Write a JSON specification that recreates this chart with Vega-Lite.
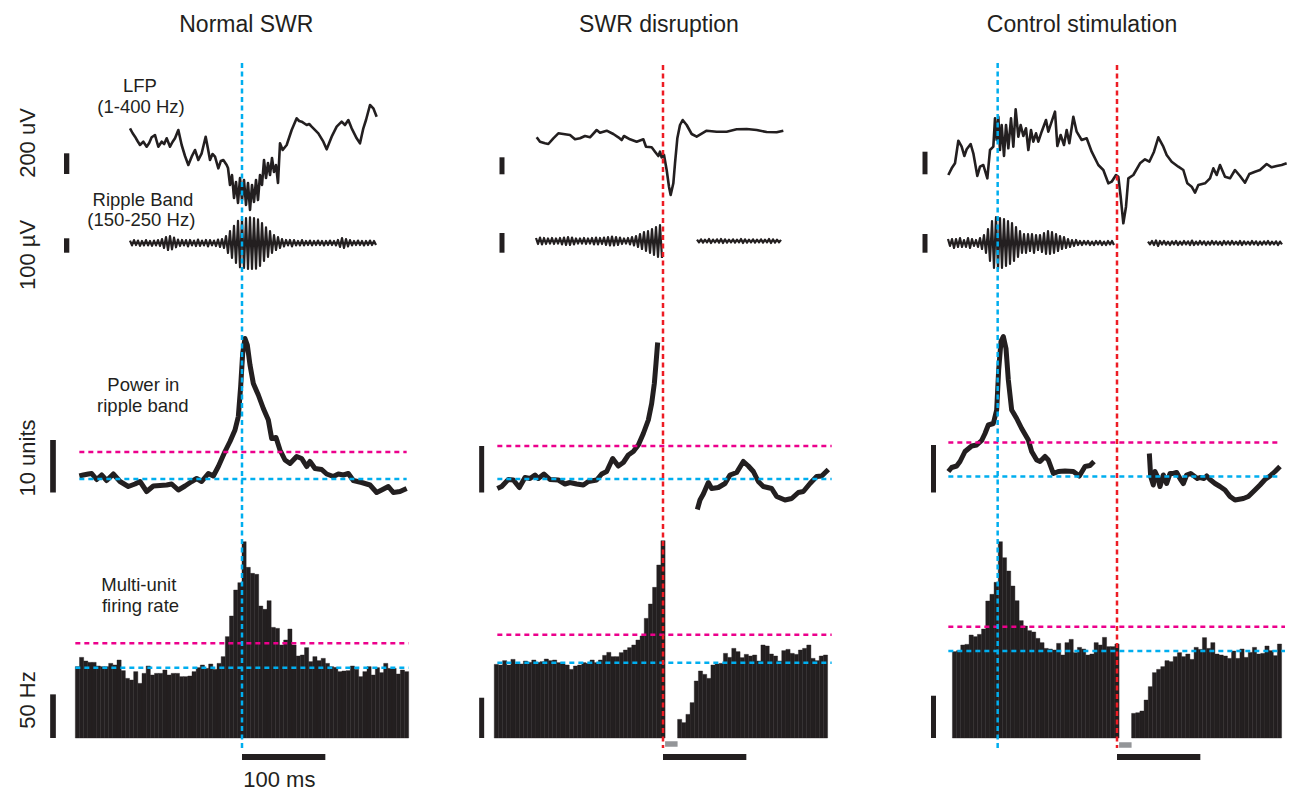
{
"$schema": "https://vega.github.io/schema/vega-lite/v6.json",
"padding": 0,
"background": "white",
"bounds": "flush",
"spacing": 20,
"config": {"view": {"stroke": null}},
"datasets": {
"lfp1": [{"t":-134.4,"v":217},{"t":-131.4,"v":170},{"t":-128.4,"v":133},{"t":-125.4,"v":90},{"t":-122.4,"v":50},{"t":-118.4,"v":83},{"t":-114.4,"v":33},{"t":-111.4,"v":70},{"t":-108.4,"v":127},{"t":-104.4,"v":150},{"t":-102.4,"v":90},{"t":-100.4,"v":33},{"t":-96.4,"v":83},{"t":-93.4,"v":60},{"t":-90.4,"v":117},{"t":-86.4,"v":33},{"t":-83.4,"v":80},{"t":-80.4,"v":117},{"t":-76.4,"v":200},{"t":-72.4,"v":50},{"t":-68.4,"v":-60},{"t":-64.4,"v":-150},{"t":-60.4,"v":-67},{"t":-56.4,"v":0},{"t":-52.4,"v":-100},{"t":-48.4,"v":-33},{"t":-43.6,"v":133},{"t":-41,"v":20},{"t":-38.4,"v":-100},{"t":-35.4,"v":-40},{"t":-32.4,"v":-67},{"t":-28.4,"v":-183},{"t":-25.4,"v":-110},{"t":-22.4,"v":-100},{"t":-18.4,"v":-150},{"t":-16.8,"v":-180},{"t":-14.4,"v":-350},{"t":-12,"v":-250},{"t":-9.6,"v":-480},{"t":-7.2,"v":-320},{"t":-4.8,"v":-530},{"t":-2.4,"v":-280},{"t":0,"v":-500},{"t":2.4,"v":-300},{"t":4.8,"v":-550},{"t":7.2,"v":-330},{"t":9.6,"v":-600},{"t":12,"v":-350},{"t":14.4,"v":-520},{"t":16.8,"v":-300},{"t":19.2,"v":-500},{"t":21.6,"v":-250},{"t":24,"v":-350},{"t":26.4,"v":-100},{"t":28.8,"v":-280},{"t":31.2,"v":-130},{"t":33.6,"v":-250},{"t":36,"v":-80},{"t":38.4,"v":-220},{"t":40.8,"v":-150},{"t":43.2,"v":-330},{"t":45.6,"v":67},{"t":48.8,"v":0},{"t":53.6,"v":50},{"t":59.6,"v":200},{"t":65.6,"v":317},{"t":68.6,"v":290},{"t":71.6,"v":283},{"t":77.6,"v":250},{"t":80.6,"v":260},{"t":83.6,"v":233},{"t":91.6,"v":167},{"t":97.6,"v":83},{"t":101.6,"v":7},{"t":107.6,"v":133},{"t":113.6,"v":233},{"t":119.6,"v":283},{"t":123.6,"v":250},{"t":127.6,"v":300},{"t":131.6,"v":217},{"t":137.6,"v":117},{"t":141.6,"v":67},{"t":145.6,"v":217},{"t":148.8,"v":300},{"t":153.6,"v":450},{"t":157.6,"v":417},{"t":161.6,"v":333}],
"rip1": [{"t":-134.4,"v":17},{"t":-132,"v":-17},{"t":-129.6,"v":20},{"t":-127.2,"v":-14},{"t":-124.8,"v":17},{"t":-122.4,"v":-20},{"t":-120,"v":14},{"t":-117.6,"v":-17},{"t":-115.2,"v":20},{"t":-112.8,"v":-17},{"t":-110.4,"v":14},{"t":-108,"v":-20},{"t":-105.6,"v":17},{"t":-103.2,"v":-17},{"t":-100.8,"v":20},{"t":-98.4,"v":-21},{"t":-96,"v":28},{"t":-93.6,"v":-35},{"t":-91.2,"v":42},{"t":-88.8,"v":-49},{"t":-86.4,"v":49},{"t":-84,"v":-45},{"t":-81.6,"v":38},{"t":-79.2,"v":-30},{"t":-76.8,"v":24},{"t":-74.4,"v":-21},{"t":-72,"v":21},{"t":-69.6,"v":-17},{"t":-67.2,"v":20},{"t":-64.8,"v":-24},{"t":-62.4,"v":21},{"t":-60,"v":-17},{"t":-57.6,"v":17},{"t":-55.2,"v":-21},{"t":-52.8,"v":24},{"t":-50.4,"v":-20},{"t":-48,"v":17},{"t":-45.6,"v":-17},{"t":-43.2,"v":21},{"t":-40.8,"v":-24},{"t":-38.4,"v":20},{"t":-36,"v":-17},{"t":-33.6,"v":17},{"t":-31.2,"v":-21},{"t":-28.8,"v":24},{"t":-26.4,"v":-28},{"t":-24,"v":28},{"t":-21.6,"v":-35},{"t":-19.2,"v":49},{"t":-16.8,"v":-70},{"t":-14.4,"v":84},{"t":-12,"v":-105},{"t":-9.6,"v":120},{"t":-7.2,"v":-140},{"t":-4.8,"v":155},{"t":-2.4,"v":-170},{"t":0,"v":168},{"t":2.4,"v":-175},{"t":4.8,"v":175},{"t":7.2,"v":-182},{"t":9.6,"v":180},{"t":12,"v":-182},{"t":14.4,"v":175},{"t":16.8,"v":-180},{"t":19.2,"v":165},{"t":21.6,"v":-160},{"t":24,"v":140},{"t":26.4,"v":-126},{"t":28.8,"v":110},{"t":31.2,"v":-98},{"t":33.6,"v":84},{"t":36,"v":-70},{"t":38.4,"v":56},{"t":40.8,"v":-49},{"t":43.2,"v":42},{"t":45.6,"v":-35},{"t":48,"v":28},{"t":50.4,"v":-24},{"t":52.8,"v":21},{"t":55.2,"v":-17},{"t":57.6,"v":21},{"t":60,"v":-24},{"t":62.4,"v":20},{"t":64.8,"v":-17},{"t":67.2,"v":14},{"t":69.6,"v":-17},{"t":72,"v":20},{"t":74.4,"v":-17},{"t":76.8,"v":14},{"t":79.2,"v":-14},{"t":81.6,"v":17},{"t":84,"v":-17},{"t":86.4,"v":14},{"t":88.8,"v":-14},{"t":91.2,"v":17},{"t":93.6,"v":-14},{"t":96,"v":14},{"t":98.4,"v":-17},{"t":100.8,"v":14},{"t":103.2,"v":-14},{"t":105.6,"v":17},{"t":108,"v":-14},{"t":110.4,"v":14},{"t":112.8,"v":-17},{"t":115.2,"v":21},{"t":117.6,"v":-28},{"t":120,"v":35},{"t":122.4,"v":-35},{"t":124.8,"v":28},{"t":127.2,"v":-24},{"t":129.6,"v":20},{"t":132,"v":-17},{"t":134.4,"v":14},{"t":136.8,"v":-14},{"t":139.2,"v":17},{"t":141.6,"v":-14},{"t":144,"v":14},{"t":146.4,"v":-17},{"t":148.8,"v":14},{"t":151.2,"v":-14},{"t":153.6,"v":17},{"t":156,"v":-14},{"t":158.4,"v":14},{"t":160.8,"v":-14}],
"pow1": [{"t":-195.2,"v":0.8},{"t":-190.4,"v":1.0},{"t":-184.4,"v":1.2},{"t":-180.4,"v":1.3},{"t":-174.4,"v":0.1},{"t":-168.4,"v":1.0},{"t":-162.4,"v":-0.1},{"t":-154.4,"v":1.2},{"t":-146.4,"v":-0.3},{"t":-136.4,"v":-1.3},{"t":-128.4,"v":-0.8},{"t":-122.4,"v":-0.3},{"t":-114.4,"v":-2.3},{"t":-106.4,"v":-1.2},{"t":-90.4,"v":-1.0},{"t":-84.4,"v":-0.8},{"t":-76.4,"v":-2.0},{"t":-68.4,"v":-1.2},{"t":-60.4,"v":-0.3},{"t":-54.4,"v":0.3},{"t":-48.4,"v":-0.3},{"t":-40.4,"v":1.3},{"t":-34.4,"v":0.8},{"t":-28.4,"v":2.7},{"t":-20.4,"v":5.7},{"t":-14.4,"v":7.7},{"t":-8.4,"v":10.0},{"t":-4.4,"v":12.7},{"t":-1.6,"v":18.7},{"t":0.8,"v":25.3},{"t":3.6,"v":28.3},{"t":6.4,"v":27.0},{"t":9.6,"v":23.0},{"t":13.6,"v":19.3},{"t":19.6,"v":17.0},{"t":25.6,"v":14.3},{"t":31.6,"v":12.0},{"t":35.6,"v":8.3},{"t":40.8,"v":8.5},{"t":45.6,"v":6.0},{"t":51.6,"v":4.0},{"t":57.6,"v":3.3},{"t":65.6,"v":4.7},{"t":71.6,"v":4.3},{"t":77.6,"v":2.7},{"t":81.6,"v":3.7},{"t":87.6,"v":2.3},{"t":95.6,"v":2.1},{"t":101.6,"v":1.2},{"t":109.6,"v":0.7},{"t":115.6,"v":1.2},{"t":121.6,"v":1.0},{"t":127.6,"v":1.3},{"t":133.6,"v":-0.1},{"t":143.6,"v":-0.5},{"t":153.6,"v":-1.0},{"t":161.6,"v":-2.5},{"t":167.6,"v":-2.0},{"t":175.6,"v":-1.3},{"t":181.6,"v":-2.5},{"t":189.6,"v":-2.3},{"t":197.6,"v":-1.7}],
"mua1": [{"t":-200,"t2":-195,"v":78.5},{"t":-195,"t2":-190,"v":88.7},{"t":-190,"t2":-185,"v":84.7},{"t":-185,"t2":-180,"v":83.2},{"t":-180,"t2":-175,"v":83.2},{"t":-175,"t2":-170,"v":79.2},{"t":-170,"t2":-165,"v":78.5},{"t":-165,"t2":-160,"v":78.5},{"t":-160,"t2":-155,"v":82.1},{"t":-155,"t2":-150,"v":80.3},{"t":-150,"t2":-145,"v":85.8},{"t":-145,"t2":-140,"v":74.1},{"t":-140,"t2":-135,"v":65.6},{"t":-135,"t2":-130,"v":63.8},{"t":-130,"t2":-125,"v":73.0},{"t":-125,"t2":-120,"v":60.1},{"t":-120,"t2":-115,"v":71.1},{"t":-115,"t2":-110,"v":79.2},{"t":-110,"t2":-105,"v":69.3},{"t":-105,"t2":-100,"v":71.1},{"t":-100,"t2":-95,"v":71.1},{"t":-95,"t2":-90,"v":74.8},{"t":-90,"t2":-85,"v":69.3},{"t":-85,"t2":-80,"v":71.1},{"t":-80,"t2":-75,"v":71.1},{"t":-75,"t2":-70,"v":67.5},{"t":-70,"t2":-65,"v":67.5},{"t":-65,"t2":-60,"v":68.2},{"t":-60,"t2":-55,"v":73.0},{"t":-55,"t2":-50,"v":77.4},{"t":-50,"t2":-45,"v":80.3},{"t":-45,"t2":-40,"v":76.6},{"t":-40,"t2":-35,"v":81.4},{"t":-35,"t2":-30,"v":75.5},{"t":-30,"t2":-25,"v":82.1},{"t":-25,"t2":-20,"v":89.5},{"t":-20,"t2":-15,"v":111.5},{"t":-15,"t2":-10,"v":134.2},{"t":-10,"t2":-5,"v":162.8},{"t":-5,"t2":0,"v":170.9},{"t":0,"t2":5,"v":216},{"t":5,"t2":10,"v":187.7},{"t":10,"t2":15,"v":181.1},{"t":15,"t2":20,"v":180},{"t":20,"t2":25,"v":145.2},{"t":25,"t2":30,"v":141.5},{"t":30,"t2":35,"v":151.1},{"t":35,"t2":40,"v":121.7},{"t":40,"t2":45,"v":120.6},{"t":45,"t2":50,"v":102.3},{"t":50,"t2":55,"v":107.8},{"t":55,"t2":60,"v":119.9},{"t":60,"t2":65,"v":102.3},{"t":65,"t2":70,"v":90.2},{"t":70,"t2":75,"v":91.3},{"t":75,"t2":80,"v":99.4},{"t":80,"t2":85,"v":84.0},{"t":85,"t2":90,"v":89.5},{"t":90,"t2":95,"v":85.1},{"t":95,"t2":100,"v":87.6},{"t":100,"t2":105,"v":82.1},{"t":105,"t2":110,"v":78.5},{"t":110,"t2":115,"v":77.7},{"t":115,"t2":120,"v":73.0},{"t":120,"t2":125,"v":73.7},{"t":125,"t2":130,"v":74.1},{"t":130,"t2":135,"v":79.2},{"t":135,"t2":140,"v":75.5},{"t":140,"t2":145,"v":67.5},{"t":145,"t2":150,"v":73.0},{"t":150,"t2":155,"v":78.5},{"t":155,"t2":160,"v":69.3},{"t":160,"t2":165,"v":77.4},{"t":165,"t2":170,"v":71.9},{"t":170,"t2":175,"v":82.1},{"t":175,"t2":180,"v":76.6},{"t":180,"t2":185,"v":76.6},{"t":185,"t2":190,"v":70.4},{"t":190,"t2":195,"v":74.8},{"t":195,"t2":200,"v":73.0}],
"lfp2": [{"t":-151.6,"v":127},{"t":-147.6,"v":83},{"t":-141.6,"v":67},{"t":-137.6,"v":60},{"t":-131.6,"v":117},{"t":-125.6,"v":167},{"t":-119.6,"v":160},{"t":-111.6,"v":150},{"t":-105.6,"v":107},{"t":-99.6,"v":117},{"t":-93.6,"v":140},{"t":-87.6,"v":127},{"t":-79.6,"v":200},{"t":-75.6,"v":173},{"t":-67.6,"v":193},{"t":-59.6,"v":160},{"t":-53.6,"v":127},{"t":-49.6,"v":100},{"t":-46.8,"v":140},{"t":-39.6,"v":107},{"t":-31.6,"v":83},{"t":-23.6,"v":107},{"t":-20.4,"v":33},{"t":-13.6,"v":27},{"t":-9.6,"v":-17},{"t":-5.6,"v":-60},{"t":-3.6,"v":-17},{"t":-1.6,"v":-73},{"t":1.2,"v":-50},{"t":4.4,"v":-200},{"t":7.2,"v":-367},{"t":9.2,"v":-450},{"t":12.4,"v":-333},{"t":14.4,"v":-133},{"t":17.2,"v":117},{"t":20.4,"v":250},{"t":23.6,"v":300},{"t":28.4,"v":250},{"t":34.4,"v":160},{"t":40.4,"v":133},{"t":52.4,"v":193},{"t":64.4,"v":183},{"t":76.4,"v":183},{"t":88.4,"v":207},{"t":100.4,"v":210},{"t":112.4,"v":200},{"t":124.4,"v":180},{"t":136.4,"v":177},{"t":144.4,"v":193}],
"rip2": [{"s":1,"t":-152.4,"v":35},{"s":1,"t":-150,"v":-7},{"s":1,"t":-147.6,"v":38},{"s":1,"t":-145.2,"v":-10},{"s":1,"t":-142.8,"v":35},{"s":1,"t":-140.4,"v":-7},{"s":1,"t":-138,"v":32},{"s":1,"t":-135.6,"v":-4},{"s":1,"t":-133.2,"v":35},{"s":1,"t":-130.8,"v":-7},{"s":1,"t":-128.4,"v":32},{"s":1,"t":-126,"v":-4},{"s":1,"t":-123.6,"v":35},{"s":1,"t":-121.2,"v":-10},{"s":1,"t":-118.8,"v":38},{"s":1,"t":-116.4,"v":-14},{"s":1,"t":-114,"v":42},{"s":1,"t":-111.6,"v":-14},{"s":1,"t":-109.2,"v":38},{"s":1,"t":-106.8,"v":-10},{"s":1,"t":-104.4,"v":32},{"s":1,"t":-102,"v":-4},{"s":1,"t":-99.6,"v":32},{"s":1,"t":-97.2,"v":-4},{"s":1,"t":-94.8,"v":35},{"s":1,"t":-92.4,"v":-7},{"s":1,"t":-90,"v":32},{"s":1,"t":-87.6,"v":-4},{"s":1,"t":-85.2,"v":35},{"s":1,"t":-82.8,"v":-10},{"s":1,"t":-80.4,"v":38},{"s":1,"t":-78,"v":-10},{"s":1,"t":-75.6,"v":35},{"s":1,"t":-73.2,"v":-7},{"s":1,"t":-70.8,"v":38},{"s":1,"t":-68.4,"v":-14},{"s":1,"t":-66,"v":42},{"s":1,"t":-63.6,"v":-17},{"s":1,"t":-61.2,"v":45},{"s":1,"t":-58.8,"v":-17},{"s":1,"t":-56.4,"v":42},{"s":1,"t":-54,"v":-14},{"s":1,"t":-51.6,"v":38},{"s":1,"t":-49.2,"v":-7},{"s":1,"t":-46.8,"v":32},{"s":1,"t":-44.4,"v":-4},{"s":1,"t":-42,"v":35},{"s":1,"t":-39.6,"v":-10},{"s":1,"t":-37.2,"v":42},{"s":1,"t":-34.8,"v":-17},{"s":1,"t":-32.4,"v":49},{"s":1,"t":-30,"v":-28},{"s":1,"t":-27.6,"v":63},{"s":1,"t":-25.2,"v":-42},{"s":1,"t":-22.8,"v":77},{"s":1,"t":-20.4,"v":-56},{"s":1,"t":-18,"v":84},{"s":1,"t":-15.6,"v":-70},{"s":1,"t":-13.2,"v":98},{"s":1,"t":-10.8,"v":-84},{"s":1,"t":-8.4,"v":112},{"s":1,"t":-6,"v":-98},{"s":1,"t":-3.6,"v":126},{"s":1,"t":-1.2,"v":-105},
{"s":2,"t":40.8,"v":24},{"s":2,"t":43.2,"v":4},{"s":2,"t":45.6,"v":26},{"s":2,"t":48,"v":2},{"s":2,"t":50.4,"v":24},{"s":2,"t":52.8,"v":4},{"s":2,"t":55.2,"v":28},{"s":2,"t":57.6,"v":0},{"s":2,"t":60,"v":24},{"s":2,"t":62.4,"v":4},{"s":2,"t":64.8,"v":26},{"s":2,"t":67.2,"v":2},{"s":2,"t":69.6,"v":28},{"s":2,"t":72,"v":0},{"s":2,"t":74.4,"v":26},{"s":2,"t":76.8,"v":2},{"s":2,"t":79.2,"v":24},{"s":2,"t":81.6,"v":4},{"s":2,"t":84,"v":26},{"s":2,"t":86.4,"v":2},{"s":2,"t":88.8,"v":24},{"s":2,"t":91.2,"v":4},{"s":2,"t":93.6,"v":28},{"s":2,"t":96,"v":0},{"s":2,"t":98.4,"v":26},{"s":2,"t":100.8,"v":2},{"s":2,"t":103.2,"v":24},{"s":2,"t":105.6,"v":4},{"s":2,"t":108,"v":26},{"s":2,"t":110.4,"v":2},{"s":2,"t":112.8,"v":24},{"s":2,"t":115.2,"v":4},{"s":2,"t":117.6,"v":26},{"s":2,"t":120,"v":2},{"s":2,"t":122.4,"v":24},{"s":2,"t":124.8,"v":4},{"s":2,"t":127.2,"v":28},{"s":2,"t":129.6,"v":0},{"s":2,"t":132,"v":26},{"s":2,"t":134.4,"v":2},{"s":2,"t":136.8,"v":24},{"s":2,"t":139.2,"v":4},{"s":2,"t":141.6,"v":22}],
"pow2": [{"s":1,"t":-198.8,"v":-1.7},{"s":1,"t":-193.6,"v":-1.3},{"s":1,"t":-185.6,"v":0.1},{"s":1,"t":-179.6,"v":0},{"s":1,"t":-172.4,"v":-1.5},{"s":1,"t":-165.6,"v":0.5},{"s":1,"t":-159.6,"v":0.3},{"s":1,"t":-153.6,"v":1.0},{"s":1,"t":-149.6,"v":0.3},{"s":1,"t":-142.8,"v":1.2},{"s":1,"t":-135.6,"v":0.1},{"s":1,"t":-125.6,"v":0},{"s":1,"t":-117.6,"v":-0.8},{"s":1,"t":-111.6,"v":-0.5},{"s":1,"t":-103.6,"v":-0.8},{"s":1,"t":-95.6,"v":-1.0},{"s":1,"t":-89.6,"v":-0.3},{"s":1,"t":-79.6,"v":0},{"s":1,"t":-73.6,"v":1.2},{"s":1,"t":-67.6,"v":1.7},{"s":1,"t":-60.4,"v":4.3},{"s":1,"t":-53.6,"v":2.8},{"s":1,"t":-47.6,"v":3.5},{"s":1,"t":-41.6,"v":5.0},{"s":1,"t":-35.6,"v":5.7},{"s":1,"t":-29.6,"v":7.0},{"s":1,"t":-23.6,"v":9.3},{"s":1,"t":-17.6,"v":12.0},{"s":1,"t":-13.6,"v":15.3},{"s":1,"t":-10.4,"v":19.3},{"s":1,"t":-8.4,"v":23.3},{"s":1,"t":-6.4,"v":27.5},
{"s":2,"t":41.2,"v":-5.9},{"s":2,"t":44.4,"v":-4.0},{"s":2,"t":48.4,"v":-2.8},{"s":2,"t":54.4,"v":-0.5},{"s":2,"t":58.4,"v":-1.7},{"s":2,"t":66.4,"v":-1.5},{"s":2,"t":74.4,"v":-0.7},{"s":2,"t":80.4,"v":1.0},{"s":2,"t":88.4,"v":1.5},{"s":2,"t":96.4,"v":3.7},{"s":2,"t":102.4,"v":2.8},{"s":2,"t":108.4,"v":1.7},{"s":2,"t":114.4,"v":-0.3},{"s":2,"t":120.4,"v":-1.3},{"s":2,"t":130.4,"v":-1.7},{"s":2,"t":136.4,"v":-3.3},{"s":2,"t":146.4,"v":-4.0},{"s":2,"t":154.4,"v":-3.7},{"s":2,"t":162.4,"v":-2.5},{"s":2,"t":168.4,"v":-2.3},{"s":2,"t":176.4,"v":-0.7},{"s":2,"t":184.4,"v":0.7},{"s":2,"t":190.4,"v":0.8},{"s":2,"t":198.4,"v":2.1}],
"mua2": [{"t":-202.5,"t2":-197.5,"v":81.0},{"t":-197.5,"t2":-192.5,"v":80.3},{"t":-192.5,"t2":-187.5,"v":85.1},{"t":-187.5,"t2":-182.5,"v":80.3},{"t":-182.5,"t2":-177.5,"v":86.5},{"t":-177.5,"t2":-172.5,"v":81.4},{"t":-172.5,"t2":-167.5,"v":81.4},{"t":-167.5,"t2":-162.5,"v":84.7},{"t":-162.5,"t2":-157.5,"v":83.2},{"t":-157.5,"t2":-152.5,"v":85.8},{"t":-152.5,"t2":-147.5,"v":83.2},{"t":-147.5,"t2":-142.5,"v":84.0},{"t":-142.5,"t2":-137.5,"v":86.9},{"t":-137.5,"t2":-132.5,"v":85.1},{"t":-132.5,"t2":-127.5,"v":85.8},{"t":-127.5,"t2":-122.5,"v":82.9},{"t":-122.5,"t2":-117.5,"v":81.4},{"t":-117.5,"t2":-112.5,"v":80.3},{"t":-112.5,"t2":-107.5,"v":75.5},{"t":-107.5,"t2":-102.5,"v":79.2},{"t":-102.5,"t2":-97.5,"v":80.3},{"t":-97.5,"t2":-92.5,"v":82.9},{"t":-92.5,"t2":-87.5,"v":82.1},{"t":-87.5,"t2":-82.5,"v":85.8},{"t":-82.5,"t2":-77.5,"v":82.9},{"t":-77.5,"t2":-72.5,"v":85.8},{"t":-72.5,"t2":-67.5,"v":90.9},{"t":-67.5,"t2":-62.5,"v":94.2},{"t":-62.5,"t2":-57.5,"v":89.5},{"t":-57.5,"t2":-52.5,"v":89.5},{"t":-52.5,"t2":-47.5,"v":93.9},{"t":-47.5,"t2":-42.5,"v":96.8},{"t":-42.5,"t2":-37.5,"v":99.4},{"t":-37.5,"t2":-32.5,"v":102.3},{"t":-32.5,"t2":-27.5,"v":107.8},{"t":-27.5,"t2":-22.5,"v":112.2},{"t":-22.5,"t2":-17.5,"v":131.6},{"t":-17.5,"t2":-12.5,"v":147.4},{"t":-12.5,"t2":-7.5,"v":165.7},{"t":-7.5,"t2":-2.5,"v":190.3},{"t":-2.5,"t2":2.5,"v":217.1},
{"t":17.5,"t2":22.5,"v":20.5},{"t":22.5,"t2":27.5,"v":16.9},{"t":27.5,"t2":32.5,"v":26.0},{"t":32.5,"t2":37.5,"v":38.9},{"t":37.5,"t2":42.5,"v":62.7},{"t":42.5,"t2":47.5,"v":73.7},{"t":47.5,"t2":52.5,"v":70.0},{"t":52.5,"t2":57.5,"v":65.6},{"t":57.5,"t2":62.5,"v":80.3},{"t":62.5,"t2":67.5,"v":81.4},{"t":67.5,"t2":72.5,"v":82.1},{"t":72.5,"t2":77.5,"v":93.1},{"t":77.5,"t2":82.5,"v":88.7},{"t":82.5,"t2":87.5,"v":98.6},{"t":87.5,"t2":92.5,"v":95.0},{"t":92.5,"t2":97.5,"v":88.4},{"t":97.5,"t2":102.5,"v":92.0},{"t":102.5,"t2":107.5,"v":90.2},{"t":107.5,"t2":112.5,"v":91.3},{"t":112.5,"t2":117.5,"v":84.7},{"t":117.5,"t2":122.5,"v":102.3},{"t":122.5,"t2":127.5,"v":101.2},{"t":127.5,"t2":132.5,"v":92.4},{"t":132.5,"t2":137.5,"v":90.2},{"t":137.5,"t2":142.5,"v":84.7},{"t":142.5,"t2":147.5,"v":96.1},{"t":147.5,"t2":152.5,"v":97.5},{"t":152.5,"t2":157.5,"v":93.1},{"t":157.5,"t2":162.5,"v":92.0},{"t":162.5,"t2":167.5,"v":96.8},{"t":167.5,"t2":172.5,"v":98.6},{"t":172.5,"t2":177.5,"v":102.3},{"t":177.5,"t2":182.5,"v":87.6},{"t":182.5,"t2":187.5,"v":85.1},{"t":187.5,"t2":192.5,"v":90.2},{"t":192.5,"t2":197.5,"v":91.3}],
"lfp3": [{"t":-202.4,"v":-250},{"t":-198.4,"v":-183},{"t":-194.4,"v":-133},{"t":-190.4,"v":93},{"t":-186.4,"v":33},{"t":-183.2,"v":-60},{"t":-180.4,"v":7},{"t":-175.6,"v":60},{"t":-172.4,"v":-33},{"t":-167.6,"v":-260},{"t":-164.4,"v":-167},{"t":-160.4,"v":-150},{"t":-155.6,"v":-283},{"t":-152.4,"v":0},{"t":-148.4,"v":33},{"t":-146.4,"v":317},{"t":-144.4,"v":100},{"t":-142.4,"v":333},{"t":-140.4,"v":0},{"t":-138.4,"v":250},{"t":-135.6,"v":-60},{"t":-133.2,"v":250},{"t":-130.4,"v":17},{"t":-127.2,"v":317},{"t":-124.4,"v":33},{"t":-121.6,"v":407},{"t":-118.4,"v":133},{"t":-115.6,"v":250},{"t":-112.4,"v":140},{"t":-109.2,"v":217},{"t":-106.4,"v":0},{"t":-103.2,"v":200},{"t":-100.4,"v":83},{"t":-97.2,"v":167},{"t":-94.4,"v":83},{"t":-90.4,"v":183},{"t":-85.2,"v":300},{"t":-82.4,"v":183},{"t":-78.4,"v":283},{"t":-74.4,"v":383},{"t":-71.6,"v":40},{"t":-67.6,"v":150},{"t":-63.6,"v":50},{"t":-60.4,"v":200},{"t":-57.2,"v":67},{"t":-52.4,"v":333},{"t":-48.4,"v":183},{"t":-42.4,"v":100},{"t":-36.4,"v":117},{"t":-30.4,"v":-17},{"t":-22.4,"v":-150},{"t":-16.4,"v":-200},{"t":-10.4,"v":-333},{"t":-6.4,"v":-317},{"t":-1.2,"v":-250},{"t":1.6,"v":-267},{"t":4.4,"v":-467},{"t":7.6,"v":-733},{"t":10.8,"v":-567},{"t":13.6,"v":-283},{"t":19.6,"v":-250},{"t":27.6,"v":-133},{"t":33.6,"v":-93},{"t":38.8,"v":-117},{"t":44.4,"v":-17},{"t":49.6,"v":127},{"t":55.6,"v":33},{"t":59.6,"v":-50},{"t":65.6,"v":-117},{"t":73.6,"v":-167},{"t":79.6,"v":-200},{"t":84.4,"v":-333},{"t":89.6,"v":-367},{"t":93.6,"v":-427},{"t":97.6,"v":-350},{"t":105.6,"v":-333},{"t":111.6,"v":-283},{"t":115.6,"v":-183},{"t":119.6,"v":-250},{"t":123.6,"v":-150},{"t":129.6,"v":-267},{"t":135.6,"v":-283},{"t":141.6,"v":-200},{"t":147.6,"v":-260},{"t":153.6,"v":-327},{"t":158.8,"v":-240},{"t":165.6,"v":-217},{"t":171.6,"v":-200},{"t":179.6,"v":-140},{"t":185.6,"v":-173},{"t":191.6,"v":-160},{"t":197.6,"v":-150},{"t":203.6,"v":-133}],
"rip3": [{"s":1,"t":-202.8,"v":28},{"s":1,"t":-200.4,"v":-21},{"s":1,"t":-198,"v":28},{"s":1,"t":-195.6,"v":-35},{"s":1,"t":-193.2,"v":28},{"s":1,"t":-190.8,"v":-28},{"s":1,"t":-188.4,"v":35},{"s":1,"t":-186,"v":-28},{"s":1,"t":-183.6,"v":21},{"s":1,"t":-181.2,"v":-28},{"s":1,"t":-178.8,"v":35},{"s":1,"t":-176.4,"v":-35},{"s":1,"t":-174,"v":28},{"s":1,"t":-171.6,"v":-21},{"s":1,"t":-169.2,"v":21},{"s":1,"t":-166.8,"v":-28},{"s":1,"t":-164.4,"v":35},{"s":1,"t":-162,"v":-42},{"s":1,"t":-159.6,"v":56},{"s":1,"t":-157.2,"v":-70},{"s":1,"t":-154.8,"v":98},{"s":1,"t":-152.4,"v":-126},{"s":1,"t":-150,"v":154},{"s":1,"t":-147.6,"v":-175},{"s":1,"t":-145.2,"v":182},{"s":1,"t":-142.8,"v":-182},{"s":1,"t":-140.4,"v":175},{"s":1,"t":-138,"v":-175},{"s":1,"t":-135.6,"v":168},{"s":1,"t":-133.2,"v":-161},{"s":1,"t":-130.8,"v":154},{"s":1,"t":-128.4,"v":-147},{"s":1,"t":-126,"v":140},{"s":1,"t":-123.6,"v":-126},{"s":1,"t":-121.2,"v":112},{"s":1,"t":-118.8,"v":-98},{"s":1,"t":-116.4,"v":84},{"s":1,"t":-114,"v":-70},{"s":1,"t":-111.6,"v":63},{"s":1,"t":-109.2,"v":-70},{"s":1,"t":-106.8,"v":63},{"s":1,"t":-104.4,"v":-56},{"s":1,"t":-102,"v":63},{"s":1,"t":-99.6,"v":-70},{"s":1,"t":-97.2,"v":56},{"s":1,"t":-94.8,"v":-49},{"s":1,"t":-92.4,"v":56},{"s":1,"t":-90,"v":-63},{"s":1,"t":-87.6,"v":70},{"s":1,"t":-85.2,"v":-77},{"s":1,"t":-82.8,"v":84},{"s":1,"t":-80.4,"v":-77},{"s":1,"t":-78,"v":77},{"s":1,"t":-75.6,"v":-70},{"s":1,"t":-73.2,"v":63},{"s":1,"t":-70.8,"v":-56},{"s":1,"t":-68.4,"v":49},{"s":1,"t":-66,"v":-42},{"s":1,"t":-63.6,"v":42},{"s":1,"t":-61.2,"v":-35},{"s":1,"t":-58.8,"v":28},{"s":1,"t":-56.4,"v":-28},{"s":1,"t":-54,"v":21},{"s":1,"t":-51.6,"v":-21},{"s":1,"t":-49.2,"v":21},{"s":1,"t":-46.8,"v":-14},{"s":1,"t":-44.4,"v":14},{"s":1,"t":-42,"v":-14},{"s":1,"t":-39.6,"v":14},{"s":1,"t":-37.2,"v":-10},{"s":1,"t":-34.8,"v":14},{"s":1,"t":-32.4,"v":-14},{"s":1,"t":-30,"v":10},{"s":1,"t":-27.6,"v":-14},{"s":1,"t":-25.2,"v":14},{"s":1,"t":-22.8,"v":-10},{"s":1,"t":-20.4,"v":14},{"s":1,"t":-18,"v":-14},{"s":1,"t":-15.6,"v":10},{"s":1,"t":-13.2,"v":-14},{"s":1,"t":-10.8,"v":14},{"s":1,"t":-8.4,"v":-10},{"s":1,"t":-6,"v":14},{"s":1,"t":-3.6,"v":-14},
{"s":2,"t":37.2,"v":10},{"s":2,"t":39.6,"v":-10},{"s":2,"t":42,"v":14},{"s":2,"t":44.4,"v":-14},{"s":2,"t":46.8,"v":18},{"s":2,"t":49.2,"v":-21},{"s":2,"t":51.6,"v":14},{"s":2,"t":54,"v":-10},{"s":2,"t":56.4,"v":14},{"s":2,"t":58.8,"v":-12},{"s":2,"t":61.2,"v":10},{"s":2,"t":63.6,"v":-14},{"s":2,"t":66,"v":12},{"s":2,"t":68.4,"v":-10},{"s":2,"t":70.8,"v":14},{"s":2,"t":73.2,"v":-14},{"s":2,"t":75.6,"v":10},{"s":2,"t":78,"v":-12},{"s":2,"t":80.4,"v":14},{"s":2,"t":82.8,"v":-10},{"s":2,"t":85.2,"v":12},{"s":2,"t":87.6,"v":-14},{"s":2,"t":90,"v":17},{"s":2,"t":92.4,"v":-14},{"s":2,"t":94.8,"v":10},{"s":2,"t":97.2,"v":-12},{"s":2,"t":99.6,"v":14},{"s":2,"t":102,"v":-10},{"s":2,"t":104.4,"v":12},{"s":2,"t":106.8,"v":-14},{"s":2,"t":109.2,"v":10},{"s":2,"t":111.6,"v":-12},{"s":2,"t":114,"v":14},{"s":2,"t":116.4,"v":-10},{"s":2,"t":118.8,"v":12},{"s":2,"t":121.2,"v":-12},{"s":2,"t":123.6,"v":10},{"s":2,"t":126,"v":-14},{"s":2,"t":128.4,"v":14},{"s":2,"t":130.8,"v":-10},{"s":2,"t":133.2,"v":12},{"s":2,"t":135.6,"v":-12},{"s":2,"t":138,"v":14},{"s":2,"t":140.4,"v":-10},{"s":2,"t":142.8,"v":10},{"s":2,"t":145.2,"v":-12},{"s":2,"t":147.6,"v":14},{"s":2,"t":150,"v":-14},{"s":2,"t":152.4,"v":12},{"s":2,"t":154.8,"v":-10},{"s":2,"t":157.2,"v":10},{"s":2,"t":159.6,"v":-12},{"s":2,"t":162,"v":14},{"s":2,"t":164.4,"v":-10},{"s":2,"t":166.8,"v":12},{"s":2,"t":169.2,"v":-14},{"s":2,"t":171.6,"v":10},{"s":2,"t":174,"v":-12},{"s":2,"t":176.4,"v":12},{"s":2,"t":178.8,"v":-10},{"s":2,"t":181.2,"v":14},{"s":2,"t":183.6,"v":-12},{"s":2,"t":186,"v":10},{"s":2,"t":188.4,"v":-10},{"s":2,"t":190.8,"v":12},{"s":2,"t":193.2,"v":-14},{"s":2,"t":195.6,"v":10},{"s":2,"t":198,"v":-10}],
"pow3": [{"s":1,"t":-202.4,"v":1.7},{"s":1,"t":-198.4,"v":2.5},{"s":1,"t":-192.4,"v":2.8},{"s":1,"t":-188.4,"v":3.7},{"s":1,"t":-182.4,"v":5.7},{"s":1,"t":-174.4,"v":6.8},{"s":1,"t":-168.4,"v":7.0},{"s":1,"t":-162.4,"v":7.9},{"s":1,"t":-158.4,"v":9.3},{"s":1,"t":-154.4,"v":11.0},{"s":1,"t":-148.4,"v":11.3},{"s":1,"t":-144.4,"v":14.0},{"s":1,"t":-142,"v":22.0},{"s":1,"t":-139.2,"v":27.7},{"s":1,"t":-136.4,"v":28.7},{"s":1,"t":-133.2,"v":26.3},{"s":1,"t":-130.4,"v":20.0},{"s":1,"t":-126.4,"v":14.0},{"s":1,"t":-120.4,"v":12.3},{"s":1,"t":-114.4,"v":10.3},{"s":1,"t":-106.4,"v":8.0},{"s":1,"t":-102.4,"v":5.7},{"s":1,"t":-96.4,"v":4.0},{"s":1,"t":-92.4,"v":3.7},{"s":1,"t":-86.4,"v":4.7},{"s":1,"t":-82.4,"v":4.0},{"s":1,"t":-76.4,"v":1.3},{"s":1,"t":-70.4,"v":1.7},{"s":1,"t":-62.4,"v":1.8},{"s":1,"t":-52.4,"v":1.7},{"s":1,"t":-45.2,"v":0.8},{"s":1,"t":-38.4,"v":2.7},{"s":1,"t":-32.4,"v":2.9},{"s":1,"t":-27.6,"v":3.7},
{"s":2,"t":38.8,"v":5.3},{"s":2,"t":40.4,"v":0.7},{"s":2,"t":43.6,"v":-1.0},{"s":2,"t":45.6,"v":1.7},{"s":2,"t":48.4,"v":0.7},{"s":2,"t":51.6,"v":-1.3},{"s":2,"t":55.6,"v":1.0},{"s":2,"t":59.6,"v":-0.7},{"s":2,"t":63.6,"v":1.3},{"s":2,"t":67.6,"v":1.3},{"s":2,"t":71.6,"v":1.5},{"s":2,"t":75.6,"v":0.3},{"s":2,"t":79.6,"v":-0.7},{"s":2,"t":83.6,"v":1.0},{"s":2,"t":88.4,"v":1.3},{"s":2,"t":92.4,"v":0.8},{"s":2,"t":96.4,"v":0.3},{"s":2,"t":99.6,"v":0.5},{"s":2,"t":104.4,"v":0.3},{"s":2,"t":107.6,"v":0.8},{"s":2,"t":111.6,"v":0.1},{"s":2,"t":117.6,"v":-0.7},{"s":2,"t":123.6,"v":-1.3},{"s":2,"t":129.6,"v":-2.0},{"s":2,"t":135.6,"v":-3.3},{"s":2,"t":141.6,"v":-4.0},{"s":2,"t":151.6,"v":-3.7},{"s":2,"t":157.6,"v":-3.3},{"s":2,"t":165.6,"v":-2.0},{"s":2,"t":171.6,"v":-1.0},{"s":2,"t":177.6,"v":0.1},{"s":2,"t":183.6,"v":0.8},{"s":2,"t":189.6,"v":1.7},{"s":2,"t":195.6,"v":2.7}],
"mua3": [{"t":-197.5,"t2":-192.5,"v":95.0},{"t":-192.5,"t2":-187.5,"v":96.1},{"t":-187.5,"t2":-182.5,"v":102.3},{"t":-182.5,"t2":-177.5,"v":103.0},{"t":-177.5,"t2":-172.5,"v":113.3},{"t":-172.5,"t2":-167.5,"v":111.5},{"t":-167.5,"t2":-162.5,"v":114.0},{"t":-162.5,"t2":-157.5,"v":119.9},{"t":-157.5,"t2":-152.5,"v":150.7},{"t":-152.5,"t2":-147.5,"v":158.0},{"t":-147.5,"t2":-142.5,"v":171.2},{"t":-142.5,"t2":-137.5,"v":216.0},{"t":-137.5,"t2":-132.5,"v":198.4},{"t":-132.5,"t2":-127.5,"v":183.7},{"t":-127.5,"t2":-122.5,"v":167.2},{"t":-122.5,"t2":-117.5,"v":151.1},{"t":-117.5,"t2":-112.5,"v":129.1},{"t":-112.5,"t2":-107.5,"v":123.2},{"t":-107.5,"t2":-102.5,"v":118.1},{"t":-102.5,"t2":-97.5,"v":116.6},{"t":-97.5,"t2":-92.5,"v":109.6},{"t":-92.5,"t2":-87.5,"v":104.9},{"t":-87.5,"t2":-82.5,"v":98.6},{"t":-82.5,"t2":-77.5,"v":97.9},{"t":-77.5,"t2":-72.5,"v":96.8},{"t":-72.5,"t2":-67.5,"v":104.1},{"t":-67.5,"t2":-62.5,"v":91.3},{"t":-62.5,"t2":-57.5,"v":104.9},{"t":-57.5,"t2":-52.5,"v":108.5},{"t":-52.5,"t2":-47.5,"v":93.9},{"t":-47.5,"t2":-42.5,"v":99.7},{"t":-42.5,"t2":-37.5,"v":97.9},{"t":-37.5,"t2":-32.5,"v":91.3},{"t":-32.5,"t2":-27.5,"v":92.4},{"t":-27.5,"t2":-22.5,"v":104.9},{"t":-22.5,"t2":-17.5,"v":102.3},{"t":-17.5,"t2":-12.5,"v":110.7},{"t":-12.5,"t2":-7.5,"v":100.5},{"t":-7.5,"t2":-2.5,"v":100.5},{"t":-2.5,"t2":2.5,"v":103.4},
{"t":17.5,"t2":22.5,"v":27.1},{"t":22.5,"t2":27.5,"v":27.9},{"t":27.5,"t2":32.5,"v":29.7},{"t":32.5,"t2":37.5,"v":41.8},{"t":37.5,"t2":42.5,"v":56.5},{"t":42.5,"t2":47.5,"v":71.9},{"t":47.5,"t2":52.5,"v":75.5},{"t":52.5,"t2":57.5,"v":78.5},{"t":57.5,"t2":62.5,"v":85.1},{"t":62.5,"t2":67.5,"v":84.0},{"t":67.5,"t2":72.5,"v":89.5},{"t":72.5,"t2":77.5,"v":93.9},{"t":77.5,"t2":82.5,"v":89.5},{"t":82.5,"t2":87.5,"v":92.4},{"t":87.5,"t2":92.5,"v":86.5},{"t":92.5,"t2":97.5,"v":99.7},{"t":97.5,"t2":102.5,"v":97.5},{"t":102.5,"t2":107.5,"v":110.4},{"t":107.5,"t2":112.5,"v":98.6},{"t":112.5,"t2":117.5,"v":104.9},{"t":117.5,"t2":122.5,"v":92.4},{"t":122.5,"t2":127.5,"v":91.3},{"t":127.5,"t2":132.5,"v":90.2},{"t":132.5,"t2":137.5,"v":87.6},{"t":137.5,"t2":142.5,"v":95.7},{"t":142.5,"t2":147.5,"v":87.6},{"t":147.5,"t2":152.5,"v":97.9},{"t":152.5,"t2":157.5,"v":88.7},{"t":157.5,"t2":162.5,"v":94.2},{"t":162.5,"t2":167.5,"v":99.7},{"t":167.5,"t2":172.5,"v":92.4},{"t":172.5,"t2":177.5,"v":93.1},{"t":177.5,"t2":182.5,"v":101.2},{"t":182.5,"t2":187.5,"v":96.1},{"t":187.5,"t2":192.5,"v":90.6},{"t":192.5,"t2":197.5,"v":103.4}]
},
"hconcat": [
{
"width": 430, "height": 790,
"encoding": {"x": {"field": "t", "type": "quantitative", "scale": {"domain": [-290.4, 225.6], "nice": false, "zero": false}, "axis": null}},
"resolve": {"scale": {"y": "independent"}},
"layer": [
 {"encoding": {"y": {"field": "v", "type": "quantitative", "scale": {"domain": [-6400, 1500], "nice": false, "zero": false}, "axis": null}},
  "layer": [
   {"data": {"name": "lfp1"}, "mark": {"type": "line", "color": "#231f20", "strokeWidth": 2.6, "strokeJoin": "round"}},
   {"data": {"values": [{"t": -210.4, "v": -33, "v2": -240}]}, "mark": {"type": "rule", "color": "#231f20", "strokeWidth": 5.3}, "encoding": {"y2": {"field": "v2"}}},
   {"data": {"values": [{"t": 5.2, "v": 1183, "label": "Normal SWR"}]}, "mark": {"type": "text", "font": "Liberation Sans", "fontSize": 23, "align": "center", "baseline": "alphabetic", "color": "#231f20"}, "encoding": {"text": {"field": "label"}}},
   {"data": {"values": [{"t": -122.4, "v": 583, "label": "LFP"}, {"t": -121.2, "v": 373, "label": "(1-400 Hz)"}, {"t": -118.8, "v": -557, "label": "Ripple Band"}, {"t": -120.8, "v": -757, "label": "(150-250 Hz)"}]}, "mark": {"type": "text", "font": "Liberation Sans", "fontSize": 18.5, "align": "center", "baseline": "alphabetic", "color": "#231f20"}, "encoding": {"text": {"field": "label"}}},
   {"data": {"values": [{"t": -256.8, "v": 70, "label": "200 uV"}]}, "mark": {"type": "text", "font": "Liberation Sans", "fontSize": 22, "angle": 270, "align": "center", "baseline": "middle", "color": "#231f20"}, "encoding": {"text": {"field": "label"}}}
  ]},
 {"encoding": {"y": {"field": "v", "type": "quantitative", "scale": {"domain": [-3829, 1701], "nice": false, "zero": false}, "axis": null}},
  "layer": [
   {"data": {"name": "rip1"}, "mark": {"type": "line", "color": "#231f20", "strokeWidth": 2.2, "strokeJoin": "round"}},
   {"data": {"values": [{"t": -210.4, "v": 33, "v2": -68}]}, "mark": {"type": "rule", "color": "#231f20", "strokeWidth": 5.3}, "encoding": {"y2": {"field": "v2"}}},
   {"data": {"values": [{"t": -256.8, "v": -84, "label": "100 µV"}]}, "mark": {"type": "text", "font": "Liberation Sans", "fontSize": 22, "angle": 270, "align": "center", "baseline": "middle", "color": "#231f20"}, "encoding": {"text": {"field": "label"}}}
  ]},
 {"encoding": {"y": {"field": "v", "type": "quantitative", "scale": {"domain": [-62, 96], "nice": false, "zero": false}, "axis": null}},
  "layer": [
   {"data": {"name": "pow1"}, "mark": {"type": "line", "color": "#231f20", "strokeWidth": 5, "strokeJoin": "round"}},
   {"data": {"values": [{"t": -195.2, "t2": 197.6, "v": 5.6}]}, "mark": {"type": "rule", "color": "#ec008c", "strokeWidth": 2.5, "strokeDash": [5, 4]}, "encoding": {"x2": {"field": "t2"}}},
   {"data": {"values": [{"t": -195.2, "t2": 197.6, "v": 0.2}]}, "mark": {"type": "rule", "color": "#00aeef", "strokeWidth": 2.5, "strokeDash": [5, 4]}, "encoding": {"x2": {"field": "t2"}}},
   {"data": {"values": [{"t": -226.8, "v": 8, "v2": -2.5}]}, "mark": {"type": "rule", "color": "#231f20", "strokeWidth": 5.7}, "encoding": {"y2": {"field": "v2"}}},
   {"data": {"values": [{"t": -118.4, "v": 17.8, "label": "Power in"}, {"t": -119, "v": 13.7, "label": "ripple band"}]}, "mark": {"type": "text", "font": "Liberation Sans", "fontSize": 18.5, "align": "center", "baseline": "alphabetic", "color": "#231f20"}, "encoding": {"text": {"field": "label"}}},
   {"data": {"values": [{"t": -256.8, "v": 4.4, "label": "10 units"}]}, "mark": {"type": "text", "font": "Liberation Sans", "fontSize": 22, "angle": 270, "align": "center", "baseline": "middle", "color": "#231f20"}, "encoding": {"text": {"field": "label"}}}
  ]},
 {"encoding": {"y": {"field": "v", "type": "quantitative", "scale": {"domain": [-57.2, 811.8], "nice": false, "zero": false}, "axis": null}},
  "layer": [
   {"data": {"name": "mua1"}, "mark": {"type": "bar", "color": "#231f20", "stroke": "#231f20", "strokeWidth": 0.4}, "encoding": {"x2": {"field": "t2"}, "y2": {"datum": 0}}},
   {"data": {"values": [{"t": -200, "t2": 200, "v": 104.2}]}, "mark": {"type": "rule", "color": "#ec008c", "strokeWidth": 2.5, "strokeDash": [5, 4]}, "encoding": {"x2": {"field": "t2"}}},
   {"data": {"values": [{"t": -200, "t2": 200, "v": 77.3}]}, "mark": {"type": "rule", "color": "#00aeef", "strokeWidth": 2.5, "strokeDash": [5, 4]}, "encoding": {"x2": {"field": "t2"}}},
   {"data": {"values": [{"t": -226.8, "v": 48, "v2": 0}]}, "mark": {"type": "rule", "color": "#231f20", "strokeWidth": 5.7}, "encoding": {"y2": {"field": "v2"}}},
   {"data": {"values": [{"t": 0, "t2": 100, "v": -20.9}]}, "mark": {"type": "rule", "color": "#231f20", "strokeWidth": 6}, "encoding": {"x2": {"field": "t2"}}},
   {"data": {"values": [{"t": 44.8, "v": -53.6, "label": "100 ms"}]}, "mark": {"type": "text", "font": "Liberation Sans", "fontSize": 22, "align": "center", "baseline": "alphabetic", "color": "#231f20"}, "encoding": {"text": {"field": "label"}}},
   {"data": {"values": [{"t": -123.8, "v": 161.7, "label": "Multi-unit"}, {"t": -121.8, "v": 138.9, "label": "firing rate"}]}, "mark": {"type": "text", "font": "Liberation Sans", "fontSize": 18.5, "align": "center", "baseline": "alphabetic", "color": "#231f20"}, "encoding": {"text": {"field": "label"}}},
   {"data": {"values": [{"t": -256.8, "v": 41.8, "label": "50 Hz"}]}, "mark": {"type": "text", "font": "Liberation Sans", "fontSize": 22, "angle": 270, "align": "center", "baseline": "middle", "color": "#231f20"}, "encoding": {"text": {"field": "label"}}},
   {"data": {"values": [{"t": 0, "v": 742.5, "v2": -13.2}]}, "mark": {"type": "rule", "color": "#00aeef", "strokeWidth": 2.5, "strokeDash": [5, 3.5]}, "encoding": {"y2": {"field": "v2"}}}
  ]}
]
},
{
"width": 410, "height": 790,
"encoding": {"x": {"field": "t", "type": "quantitative", "scale": {"domain": [-255.6, 236.4], "nice": false, "zero": false}, "axis": null}},
"resolve": {"scale": {"y": "independent"}},
"layer": [
 {"encoding": {"y": {"field": "v", "type": "quantitative", "scale": {"domain": [-6400, 1500], "nice": false, "zero": false}, "axis": null}},
  "layer": [
   {"data": {"name": "lfp2"}, "mark": {"type": "line", "color": "#231f20", "strokeWidth": 2.6, "strokeJoin": "round"}},
   {"data": {"values": [{"t": -193.2, "v": -73, "v2": -243}]}, "mark": {"type": "rule", "color": "#231f20", "strokeWidth": 5}, "encoding": {"y2": {"field": "v2"}}},
   {"data": {"values": [{"t": -4.8, "v": 1183, "label": "SWR disruption"}]}, "mark": {"type": "text", "font": "Liberation Sans", "fontSize": 23, "align": "center", "baseline": "alphabetic", "color": "#231f20"}, "encoding": {"text": {"field": "label"}}}
  ]},
 {"encoding": {"y": {"field": "v", "type": "quantitative", "scale": {"domain": [-3829, 1701], "nice": false, "zero": false}, "axis": null}},
  "layer": [
   {"data": {"name": "rip2"}, "mark": {"type": "line", "color": "#231f20", "strokeWidth": 2.2, "strokeJoin": "round"}, "encoding": {"detail": {"field": "s"}}},
   {"data": {"values": [{"t": -193.2, "v": 70, "v2": -68}]}, "mark": {"type": "rule", "color": "#231f20", "strokeWidth": 5}, "encoding": {"y2": {"field": "v2"}}}
  ]},
 {"encoding": {"y": {"field": "v", "type": "quantitative", "scale": {"domain": [-62, 96], "nice": false, "zero": false}, "axis": null}},
  "layer": [
   {"data": {"name": "pow2"}, "mark": {"type": "line", "color": "#231f20", "strokeWidth": 5, "strokeJoin": "round"}, "encoding": {"detail": {"field": "s"}}},
   {"data": {"values": [{"t": -198.8, "t2": 202.4, "v": 6.8}]}, "mark": {"type": "rule", "color": "#ec008c", "strokeWidth": 2.5, "strokeDash": [5, 4]}, "encoding": {"x2": {"field": "t2"}}},
   {"data": {"values": [{"t": -198.8, "t2": 202.4, "v": 0.2}]}, "mark": {"type": "rule", "color": "#00aeef", "strokeWidth": 2.5, "strokeDash": [5, 4]}, "encoding": {"x2": {"field": "t2"}}},
   {"data": {"values": [{"t": -217.6, "v": 6.8, "v2": -2.5}]}, "mark": {"type": "rule", "color": "#231f20", "strokeWidth": 5}, "encoding": {"y2": {"field": "v2"}}}
  ]},
 {"encoding": {"y": {"field": "v", "type": "quantitative", "scale": {"domain": [-57.2, 811.8], "nice": false, "zero": false}, "axis": null}},
  "layer": [
   {"data": {"name": "mua2"}, "mark": {"type": "bar", "color": "#231f20", "stroke": "#231f20", "strokeWidth": 0.4}, "encoding": {"x2": {"field": "t2"}, "y2": {"datum": 0}}},
   {"data": {"values": [{"t": -198.8, "t2": 202.4, "v": 113.6}]}, "mark": {"type": "rule", "color": "#ec008c", "strokeWidth": 2.5, "strokeDash": [5, 4]}, "encoding": {"x2": {"field": "t2"}}},
   {"data": {"values": [{"t": -198.8, "t2": 202.4, "v": 82.8}]}, "mark": {"type": "rule", "color": "#00aeef", "strokeWidth": 2.5, "strokeDash": [5, 4]}, "encoding": {"x2": {"field": "t2"}}},
   {"data": {"values": [{"t": -217.6, "v": 44.3, "v2": 0}]}, "mark": {"type": "rule", "color": "#231f20", "strokeWidth": 5}, "encoding": {"y2": {"field": "v2"}}},
   {"data": {"values": [{"t": 2.5, "t2": 17.5, "v": -6.6}]}, "mark": {"type": "rule", "color": "#939598", "strokeWidth": 5.5}, "encoding": {"x2": {"field": "t2"}}},
   {"data": {"values": [{"t": 0, "t2": 100, "v": -20.9}]}, "mark": {"type": "rule", "color": "#231f20", "strokeWidth": 6}, "encoding": {"x2": {"field": "t2"}}},
   {"data": {"values": [{"t": 0, "v": 740.3, "v2": -11}]}, "mark": {"type": "rule", "color": "#ed1c24", "strokeWidth": 2.5, "strokeDash": [5, 3.5]}, "encoding": {"y2": {"field": "v2"}}}
  ]}
]
},
{
"width": 409, "height": 790,
"encoding": {"x": {"field": "t", "type": "quantitative", "scale": {"domain": [-284.4, 206.4], "nice": false, "zero": false}, "axis": null}},
"resolve": {"scale": {"y": "independent"}},
"layer": [
 {"encoding": {"y": {"field": "v", "type": "quantitative", "scale": {"domain": [-6400, 1500], "nice": false, "zero": false}, "axis": null}},
  "layer": [
   {"data": {"name": "lfp3"}, "mark": {"type": "line", "color": "#231f20", "strokeWidth": 2.6, "strokeJoin": "round"}},
   {"data": {"values": [{"t": -230.4, "v": -17, "v2": -243}]}, "mark": {"type": "rule", "color": "#231f20", "strokeWidth": 5}, "encoding": {"y2": {"field": "v2"}}},
   {"data": {"values": [{"t": -42, "v": 1183, "label": "Control stimulation"}]}, "mark": {"type": "text", "font": "Liberation Sans", "fontSize": 23, "align": "center", "baseline": "alphabetic", "color": "#231f20"}, "encoding": {"text": {"field": "label"}}}
  ]},
 {"encoding": {"y": {"field": "v", "type": "quantitative", "scale": {"domain": [-3829, 1701], "nice": false, "zero": false}, "axis": null}},
  "layer": [
   {"data": {"name": "rip3"}, "mark": {"type": "line", "color": "#231f20", "strokeWidth": 2.2, "strokeJoin": "round"}, "encoding": {"detail": {"field": "s"}}},
   {"data": {"values": [{"t": -230.4, "v": 63, "v2": -68}]}, "mark": {"type": "rule", "color": "#231f20", "strokeWidth": 5}, "encoding": {"y2": {"field": "v2"}}}
  ]},
 {"encoding": {"y": {"field": "v", "type": "quantitative", "scale": {"domain": [-62, 96], "nice": false, "zero": false}, "axis": null}},
  "layer": [
   {"data": {"name": "pow3"}, "mark": {"type": "line", "color": "#231f20", "strokeWidth": 5, "strokeJoin": "round"}, "encoding": {"detail": {"field": "s"}}},
   {"data": {"values": [{"t": -202.4, "t2": 195.6, "v": 7.5}]}, "mark": {"type": "rule", "color": "#ec008c", "strokeWidth": 2.5, "strokeDash": [5, 4]}, "encoding": {"x2": {"field": "t2"}}},
   {"data": {"values": [{"t": -202.4, "t2": 195.6, "v": 0.7}]}, "mark": {"type": "rule", "color": "#00aeef", "strokeWidth": 2.5, "strokeDash": [5, 4]}, "encoding": {"x2": {"field": "t2"}}},
   {"data": {"values": [{"t": -220.2, "v": 7.0, "v2": -2.5}]}, "mark": {"type": "rule", "color": "#231f20", "strokeWidth": 5}, "encoding": {"y2": {"field": "v2"}}}
  ]},
 {"encoding": {"y": {"field": "v", "type": "quantitative", "scale": {"domain": [-57.2, 811.8], "nice": false, "zero": false}, "axis": null}},
  "layer": [
   {"data": {"name": "mua3"}, "mark": {"type": "bar", "color": "#231f20", "stroke": "#231f20", "strokeWidth": 0.4}, "encoding": {"x2": {"field": "t2"}, "y2": {"datum": 0}}},
   {"data": {"values": [{"t": -202.4, "t2": 201.6, "v": 122.4}]}, "mark": {"type": "rule", "color": "#ec008c", "strokeWidth": 2.5, "strokeDash": [5, 4]}, "encoding": {"x2": {"field": "t2"}}},
   {"data": {"values": [{"t": -202.4, "t2": 201.6, "v": 95.7}]}, "mark": {"type": "rule", "color": "#00aeef", "strokeWidth": 2.5, "strokeDash": [5, 4]}, "encoding": {"x2": {"field": "t2"}}},
   {"data": {"values": [{"t": -220.2, "v": 46.5, "v2": 0}]}, "mark": {"type": "rule", "color": "#231f20", "strokeWidth": 5}, "encoding": {"y2": {"field": "v2"}}},
   {"data": {"values": [{"t": 2.5, "t2": 17.5, "v": -7.7}]}, "mark": {"type": "rule", "color": "#939598", "strokeWidth": 5.5}, "encoding": {"x2": {"field": "t2"}}},
   {"data": {"values": [{"t": 0, "t2": 100, "v": -20.9}]}, "mark": {"type": "rule", "color": "#231f20", "strokeWidth": 6}, "encoding": {"x2": {"field": "t2"}}},
   {"data": {"values": [{"t": -143.2, "v": 742.5, "v2": -13.2}]}, "mark": {"type": "rule", "color": "#00aeef", "strokeWidth": 2.5, "strokeDash": [5, 3.5]}, "encoding": {"y2": {"field": "v2"}}},
   {"data": {"values": [{"t": 0, "v": 740.3, "v2": -11}]}, "mark": {"type": "rule", "color": "#ed1c24", "strokeWidth": 2.5, "strokeDash": [5, 3.5]}, "encoding": {"y2": {"field": "v2"}}}
  ]}
]
}
]
}
